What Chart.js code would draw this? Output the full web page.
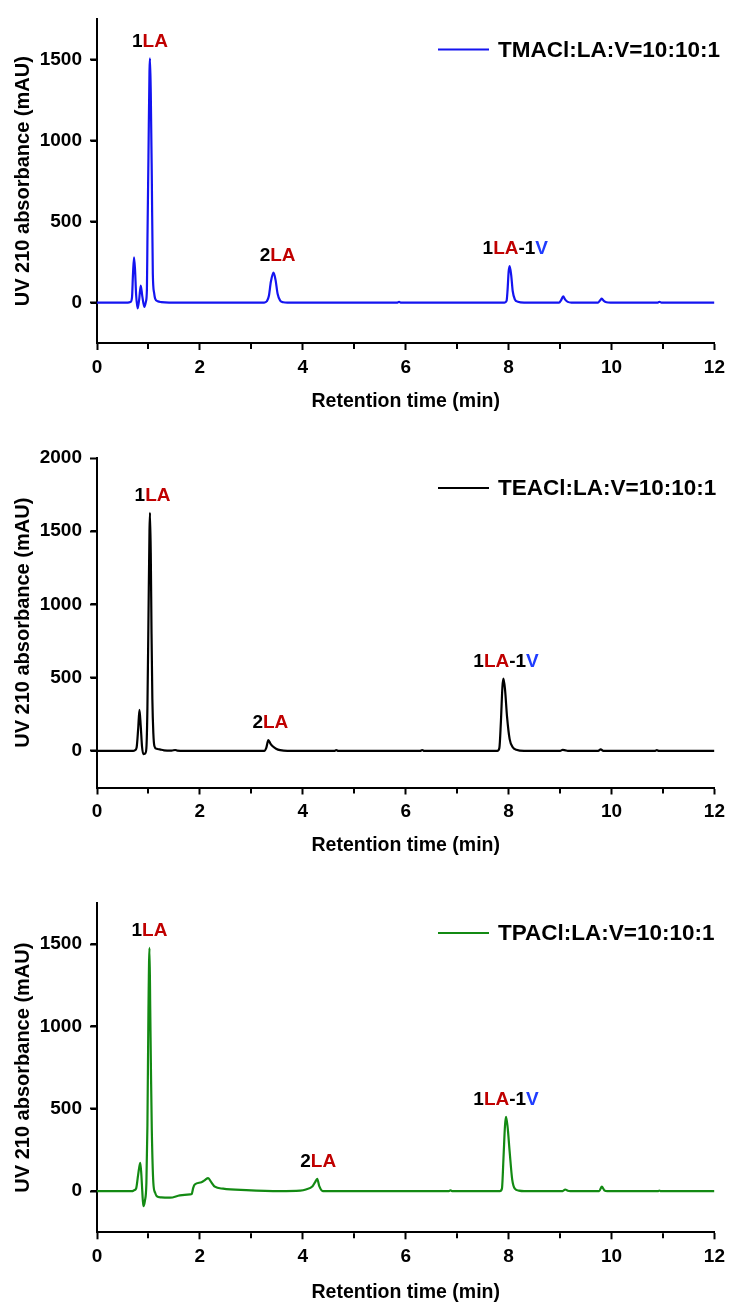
<!DOCTYPE html>
<html>
<head>
<meta charset="utf-8">
<title>HPLC chromatograms</title>
<script src="https://cdn.jsdelivr.net/npm/chart.js@4.4.0/dist/chart.umd.min.js"></script>
<style>
  html, body { margin: 0; padding: 0; background: #fff; overflow: hidden; }
  canvas { position: absolute; left: 0; }
</style>
</head>
<body>
<canvas id="chart1" width="731" height="420" style="top:0px"></canvas>
<canvas id="chart2" width="731" height="440" style="top:420px"></canvas>
<canvas id="chart3" width="731" height="444" style="top:860px"></canvas>
<script>
// TMACl run
const tmaclTime = [0, 0.6, 0.65, 0.68, 0.70, 0.72, 0.74, 0.76, 0.79, 0.82, 0.85, 0.88, 0.92, 0.95, 0.97, 0.98, 1.00, 1.02, 1.03, 1.045, 1.065, 1.085, 1.11, 1.13, 1.18, 1.25, 1.4,
  3.25, 3.30, 3.34, 3.38, 3.43, 3.47, 3.51, 3.56, 3.62, 3.7, 5.84, 5.87, 5.90,
  7.92, 7.96, 7.98, 8.00, 8.02, 8.05, 8.08, 8.12, 8.18, 8.3, 8.98, 9.02, 9.06, 9.10, 9.15, 9.22,
  9.74, 9.78, 9.81, 9.85, 9.9, 9.98, 10.9, 10.93, 10.97, 12];
const tmaclSignal = [0, 0, 3, 30, 180, 280, 200, 50, -36, 20, 105, 40, -27, 5, 80, 378, 900, 1430, 1509, 1300, 782, 176, 60, 24, 8, 3, 0,
  0, 8, 40, 130, 185, 140, 55, 12, 2, 0, 0, 5, 0,
  0, 10, 80, 190, 226, 170, 70, 20, 5, 0, 0, 15, 38, 18, 4, 0,
  0, 14, 24, 10, 2, 0, 0, 5, 0, 0];

// TEACl run
const teaclTime = [0, 0.7, 0.74, 0.77, 0.80, 0.825, 0.85, 0.875, 0.9, 0.935, 0.96, 0.98, 1.00, 1.02, 1.03, 1.045, 1.06, 1.076, 1.095, 1.115, 1.16, 1.22, 1.3, 1.45, 1.52, 1.56, 1.7,
  3.25, 3.29, 3.33, 3.37, 3.42, 3.48, 3.56, 3.7, 4.62, 4.65, 4.69, 6.28, 6.32, 6.36,
  7.78, 7.82, 7.85, 7.88, 7.90, 7.93, 7.97, 8.02, 8.08, 8.15, 8.3,
  9.0, 9.05, 9.1, 9.15, 9.74, 9.79, 9.84, 10.85, 10.88, 10.92, 12];
const teaclSignal = [0, 0, 5, 23, 150, 280, 170, 30, -22, -18, 20, 300, 900, 1500, 1626, 1350, 800, 352, 120, 34, 14, 10, 4, 2, 6, 2, 0,
  0, 20, 73, 50, 30, 15, 5, 0, 0, 6, 0, 0, 6, 0,
  0, 20, 200, 440, 494, 420, 230, 80, 25, 8, 0,
  0, 7, 4, 0, 0, 10, 0, 0, 6, 0, 0];

// TPACl run
const tpaclTime = [0, 0.68, 0.72, 0.76, 0.80, 0.84, 0.86, 0.88, 0.90, 0.93, 0.96, 0.98, 1.00, 1.02, 1.035, 1.05, 1.065, 1.095, 1.13, 1.16, 1.25, 1.42, 1.61, 1.81, 1.84,
  1.87, 1.90, 2.03, 2.10, 2.16, 2.22, 2.29, 2.45, 2.9, 3.55, 3.95, 4.06, 4.19, 4.24, 4.28, 4.32, 4.39, 6.84, 6.87, 6.90,
  7.83, 7.87, 7.90, 7.93, 7.95, 7.98, 8.02, 8.07, 8.12, 8.2, 8.3,
  9.05, 9.10, 9.15, 9.2, 9.76, 9.81, 9.86, 9.92, 10.9, 10.93, 10.96, 12];
const tpaclSignal = [0, 0, 5, 15, 100, 172, 110, 0, -91, -60, 50, 400, 1100, 1477, 1100, 700, 374, 51, -10, -30, -38, -40, -26, -20, -18,
  20, 40, 54, 68, 79, 55, 27, 15, 6, 0, 3, 10, 30, 55, 75, 30, 0, 0, 5, 0,
  0, 15, 200, 400, 451, 390, 240, 70, 15, 3, 0,
  0, 10, 2, 0, 0, 27, 5, 0, 0, 4, 0, 0];

// peak labels: [time, height, text]
const tmaclPeaks = [[1.03, 1509, '1LA'], [3.51, 185, '2LA'], [8.13, 226, '1LA-1V']];
const teaclPeaks = [[1.08, 1626, '1LA'], [3.37, 73, '2LA'], [7.95, 494, '1LA-1V']];
const tpaclPeaks = [[1.02, 1477, '1LA'], [4.30, 75, '2LA'], [7.95, 451, '1LA-1V']];

const xTicks = { min: 0, max: 12, major: 2, minor: 1 };

const FONT = "'Liberation Sans', Arial, sans-serif";
const RED = '#c00000';
const BLUE = '#1f3cff';

Chart.defaults.color = '#000';
Chart.defaults.font.family = FONT;
Chart.defaults.font.weight = 'bold';

function toPoints(time, signal) {
  return time.map((t, i) => ({ x: t, y: signal[i] }));
}

// minor ticks, peak labels and the legend entry
const decorations = {
  id: 'decorations',
  afterDraw(chart, args, opts) {
    const ctx = chart.ctx;
    const xs = chart.scales.x;
    const ys = chart.scales.y;
    const area = chart.chartArea;
    ctx.save();
    ctx.strokeStyle = '#000';
    ctx.lineWidth = 2;
    ctx.beginPath();
    for (let t = xTicks.min + xTicks.minor; t < xTicks.max; t += xTicks.major) {
      const px = Math.round(xs.getPixelForValue(t));
      ctx.moveTo(px, area.bottom + 1);
      ctx.lineTo(px, area.bottom + 6);
    }
    for (let v = ys.min + 250; v < ys.max; v += 500) {
      const py = Math.round(ys.getPixelForValue(v));
      ctx.moveTo(area.left - 1, py);
      ctx.lineTo(area.left - 6, py);
    }
    ctx.stroke();

    // peak labels, "LA" in red and "V" in blue
    ctx.font = 'bold 19px ' + FONT;
    ctx.textBaseline = 'middle';
    ctx.textAlign = 'left';
    opts.peaks.forEach(([t, h, text]) => {
      const parts = text.split(/(LA|V)/).filter(s => s.length);
      const widths = parts.map(p => ctx.measureText(p).width);
      const total = widths.reduce((a, b) => a + b, 0);
      let px = xs.getPixelForValue(t) - total / 2;
      const py = ys.getPixelForValue(h) - 17;
      parts.forEach((p, i) => {
        ctx.fillStyle = p === 'LA' ? RED : p === 'V' ? BLUE : '#000';
        ctx.fillText(p, px, py);
        px += widths[i];
      });
    });

    // legend entry
    const ds = chart.data.datasets[0];
    const ly = area.top + 30;
    ctx.strokeStyle = ds.borderColor;
    ctx.lineWidth = 2;
    ctx.beginPath();
    ctx.moveTo(area.left + 341, ly);
    ctx.lineTo(area.left + 392, ly);
    ctx.stroke();
    ctx.fillStyle = '#000';
    ctx.font = 'bold 22.5px ' + FONT;
    ctx.fillText(ds.label, area.left + 401, ly + 1);
    ctx.restore();
  }
};

function drawPanel(id, label, color, time, signal, peaks, yMax, box) {
  const canvas = document.getElementById(id);
  const xHeight = box.titleY + 11.7 - box.plotBottom;
  const padBottom = Math.max(0, canvas.height - box.plotBottom - xHeight);
  return new Chart(canvas, {
    type: 'line',
    data: {
      datasets: [{
        label: label,
        data: toPoints(time, signal),
        borderColor: color,
        borderWidth: 2.2,
        pointRadius: 0,
        fill: false,
        cubicInterpolationMode: 'monotone'
      }]
    },
    options: {
      responsive: false,
      animation: false,
      layout: { padding: { top: box.top, bottom: padBottom, left: 0, right: 14 } },
      plugins: {
        legend: { display: false },
        tooltip: { enabled: false },
        decorations: { peaks: peaks }
      },
      scales: {
        x: {
          type: 'linear',
          min: xTicks.min,
          max: xTicks.max,
          afterFit: s => { s.height = xHeight; },
          border: { color: '#000', width: 2 },
          grid: { drawOnChartArea: false, tickLength: 7, tickWidth: 2, tickColor: '#000' },
          ticks: { stepSize: xTicks.major, padding: 6, font: { size: 19, weight: 'bold' }, maxRotation: 0 },
          title: { display: true, text: 'Retention time (min)', font: { size: 19.5, weight: 'bold' }, padding: { top: 0, bottom: 0 } }
        },
        y: {
          min: -250,
          max: yMax,
          afterFit: s => { s.width = 97; },
          border: { color: '#000', width: 2 },
          grid: {
            drawOnChartArea: false, tickLength: 7, tickWidth: 2,
            tickColor: c => (c.tick && c.tick.value % 500 === 0) ? '#000' : 'rgba(0,0,0,0)'
          },
          ticks: {
            stepSize: 250,
            autoSkip: false,
            padding: 8,
            font: { size: 19, weight: 'bold' },
            callback: v => (v % 500 === 0 ? v : '')
          },
          title: { display: true, text: 'UV 210 absorbance (mAU)', font: { size: 20, weight: 'bold' }, padding: { top: 11, bottom: 0 } }
        }
      }
    },
    plugins: [decorations]
  });
}

drawPanel('chart1', 'TMACl:LA:V=10:10:1', '#1414f0', tmaclTime, tmaclSignal, tmaclPeaks, 1750,
  { top: 13, plotBottom: 343, titleY: 402 });
drawPanel('chart2', 'TEACl:LA:V=10:10:1', '#000000', teaclTime, teaclSignal, teaclPeaks, 2000,
  { top: 38, plotBottom: 367.5, titleY: 426 });
drawPanel('chart3', 'TPACl:LA:V=10:10:1', '#138a13', tpaclTime, tpaclSignal, tpaclPeaks, 1750,
  { top: 43, plotBottom: 372.5, titleY: 432.5 });
</script>
</body>
</html>
